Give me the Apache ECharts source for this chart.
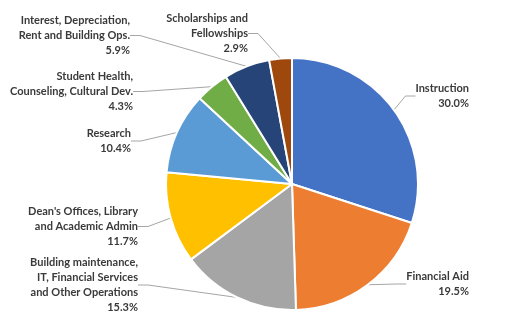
<!DOCTYPE html>
<html>
<head>
<meta charset="utf-8">
<script src="https://cdn.jsdelivr.net/npm/echarts@6/dist/echarts.min.js"></script>
<style>
  html, body { margin: 0; padding: 0; background: #fff; }
  #chart { width: 515px; height: 327px; }
</style>
</head>
<body>
<div id="chart"></div>
<script>
// Expense categories, in clockwise order from 12 o'clock
const categories = [
  'Instruction',
  'Financial Aid',
  'Building maintenance,\nIT, Financial Services\nand Other Operations',
  "Dean's Offices, Library\nand Academic Admin",
  'Research',
  'Student Health,\nCounseling, Cultural Dev.',
  'Interest, Depreciation,\nRent and Building Ops.',
  'Scholarships and\nFellowships'
];
// Share of total spending, percent
const shares = [30.0, 19.5, 15.3, 11.7, 10.4, 4.3, 5.9, 2.9];
const sliceColors = ['#4472C4', '#ED7D31', '#A5A5A5', '#FFC000', '#5B9BD5', '#70AD47', '#264478', '#9E480E'];

// Where each label block sits (right edge x, top y)
const labelSpots = [
  { x: 469, y: 81 },
  { x: 469, y: 269 },
  { x: 138, y: 255 },
  { x: 138, y: 204 },
  { x: 131, y: 126 },
  { x: 133, y: 69 },
  { x: 130, y: 13 },
  { x: 248, y: 11 }
];

const chart = echarts.init(document.getElementById('chart'), null, { renderer: 'canvas' });
chart.setOption({
  animation: false,
  backgroundColor: '#ffffff',
  series: [{
    type: 'pie',
    center: [292, 184],
    radius: 126,
    startAngle: 90,
    clockwise: true,
    avoidLabelOverlap: false,
    itemStyle: { borderColor: '#ffffff', borderWidth: 2 },
    data: categories.map((name, i) => ({
      name: name,
      value: shares[i],
      itemStyle: { color: sliceColors[i] }
    })),
    label: {
      show: true,
      formatter: p => p.name + '\n' + p.value.toFixed(1) + '%',
      fontFamily: 'Lato',
      fontWeight: 'bold',
      fontSize: 11,
      lineHeight: 15,
      color: '#3a3a3a',
      align: 'right'
    },
    labelLine: {
      show: true,
      length: 10,
      length2: 10,
      lineStyle: { color: '#a6a6a6', width: 1 }
    },
    labelLayout: params => {
      const s = labelSpots[params.dataIndex];
      return { x: s.x, y: s.y, align: 'right', verticalAlign: 'top' };
    }
  }]
});
</script>
</body>
</html>
